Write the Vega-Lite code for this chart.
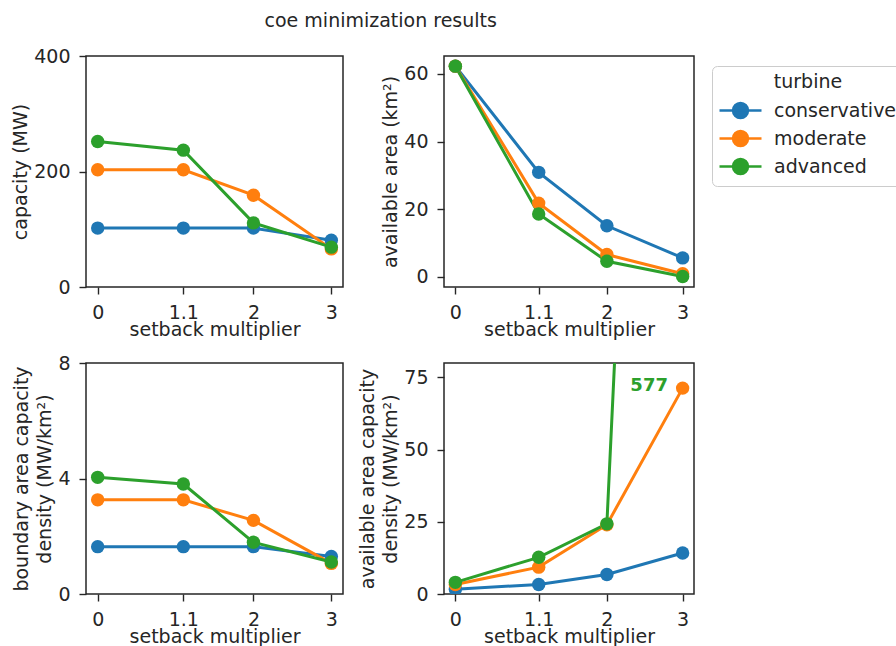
{
  "$schema": "https://vega.github.io/schema/vega-lite/v6.json",
  "autosize": {"type": "pad"},
  "padding": {"left": 10, "top": 12, "right": 0, "bottom": 0},
  "background": "white",
  "title": {"text": "coe minimization results", "fontSize": 19, "fontWeight": "normal", "font": "DejaVu Sans", "color": "#262626", "anchor": "middle", "dx": -77, "offset": 15},
  "data": {"values": [
    {"s": 0, "turbine": "conservative", "capacity": 102, "area": 62.3, "bdens": 1.64, "adens": 1.64},
    {"s": 1.1, "turbine": "conservative", "capacity": 102, "area": 30.9, "bdens": 1.64, "adens": 3.3},
    {"s": 2, "turbine": "conservative", "capacity": 102, "area": 15.1, "bdens": 1.64, "adens": 6.75},
    {"s": 3, "turbine": "conservative", "capacity": 81, "area": 5.6, "bdens": 1.3, "adens": 14.2},
    {"s": 0, "turbine": "moderate", "capacity": 203, "area": 62.3, "bdens": 3.26, "adens": 3.26},
    {"s": 1.1, "turbine": "moderate", "capacity": 203, "area": 21.8, "bdens": 3.26, "adens": 9.3},
    {"s": 2, "turbine": "moderate", "capacity": 159, "area": 6.6, "bdens": 2.55, "adens": 24.0},
    {"s": 3, "turbine": "moderate", "capacity": 66, "area": 0.93, "bdens": 1.06, "adens": 71.3},
    {"s": 0, "turbine": "advanced", "capacity": 252, "area": 62.3, "bdens": 4.04, "adens": 4.04},
    {"s": 1.1, "turbine": "advanced", "capacity": 237, "area": 18.6, "bdens": 3.81, "adens": 12.7},
    {"s": 2, "turbine": "advanced", "capacity": 111, "area": 4.6, "bdens": 1.79, "adens": 24.3},
    {"s": 3, "turbine": "advanced", "capacity": 69, "area": 0.118, "bdens": 1.11, "adens": 577}
  ]},
  "bounds": "flush",
  "columns": 2,
  "spacing": {"row": 76, "column": 101},
  "concat": [
    {
      "width": 257, "height": 231,
      "layer": [
        {"mark": {"type": "line", "strokeWidth": 3, "clip": true},
         "encoding": {
           "x": {"field": "s", "type": "quantitative", "scale": {"domain": [-0.15, 3.15], "nice": false, "zero": false}, "axis": {"values": [0, 1.1, 2, 3], "format": "~g", "title": "setback multiplier"}},
           "y": {"field": "capacity", "type": "quantitative", "scale": {"domain": [0, 400], "nice": false}, "axis": {"values": [0, 200, 400], "title": "capacity (MW)"}},
           "color": {"field": "turbine", "type": "nominal", "scale": {"domain": ["conservative", "moderate", "advanced"], "range": ["#1f77b4", "#ff7f0e", "#2ca02c"]},
             "legend": {"title": "turbine", "orient": "none", "legendX": 626, "legendY": 10,
               "symbolType": "M-2.8,0H2.8M-1,0A1,1 0 1,1 1,0A1,1 0 1,1 -1,0Z",
               "symbolSize": 225, "symbolStrokeWidth": 2.5, "symbolOffset": 12, "labelOffset": 24, "rowPadding": 3, "padding": 7,
               "strokeColor": "#cccccc", "fillColor": "white", "cornerRadius": 5, "titleAnchor": "middle",
               "encode": {"symbols": {"update": {"fill": {"scale": "color", "field": "value"}, "stroke": {"scale": "color", "field": "value"}, "opacity": {"value": 1}, "strokeWidth": {"value": 2.5}}}}}}
         }},
        {"mark": {"type": "point", "filled": true, "size": 180, "opacity": 1, "clip": true},
         "encoding": {
           "x": {"field": "s", "type": "quantitative"},
           "y": {"field": "capacity", "type": "quantitative"},
           "color": {"field": "turbine", "type": "nominal"}
         }}
      ]
    },
    {
      "width": 250, "height": 231,
      "layer": [
        {"mark": {"type": "line", "strokeWidth": 3, "clip": true},
         "encoding": {
           "x": {"field": "s", "type": "quantitative", "scale": {"domain": [-0.15, 3.15], "nice": false, "zero": false}, "axis": {"values": [0, 1.1, 2, 3], "format": "~g", "title": "setback multiplier"}},
           "y": {"field": "area", "type": "quantitative", "scale": {"domain": [-3.0, 65.3], "nice": false, "zero": false}, "axis": {"values": [0, 20, 40, 60], "title": "available area (km²)"}},
           "color": {"field": "turbine", "type": "nominal"}
         }},
        {"mark": {"type": "point", "filled": true, "size": 180, "opacity": 1, "clip": true},
         "encoding": {
           "x": {"field": "s", "type": "quantitative"},
           "y": {"field": "area", "type": "quantitative"},
           "color": {"field": "turbine", "type": "nominal"}
         }}
      ]
    },
    {
      "width": 257, "height": 231,
      "layer": [
        {"mark": {"type": "line", "strokeWidth": 3, "clip": true},
         "encoding": {
           "x": {"field": "s", "type": "quantitative", "scale": {"domain": [-0.15, 3.15], "nice": false, "zero": false}, "axis": {"values": [0, 1.1, 2, 3], "format": "~g", "title": "setback multiplier"}},
           "y": {"field": "bdens", "type": "quantitative", "scale": {"domain": [0, 8], "nice": false}, "axis": {"values": [0, 4, 8], "title": ["boundary area capacity", "density (MW/km²)"]}},
           "color": {"field": "turbine", "type": "nominal"}
         }},
        {"mark": {"type": "point", "filled": true, "size": 180, "opacity": 1, "clip": true},
         "encoding": {
           "x": {"field": "s", "type": "quantitative"},
           "y": {"field": "bdens", "type": "quantitative"},
           "color": {"field": "turbine", "type": "nominal"}
         }}
      ]
    },
    {
      "width": 250, "height": 231,
      "layer": [
        {"mark": {"type": "line", "strokeWidth": 3, "clip": true},
         "encoding": {
           "x": {"field": "s", "type": "quantitative", "scale": {"domain": [-0.15, 3.15], "nice": false, "zero": false}, "axis": {"values": [0, 1.1, 2, 3], "format": "~g", "title": "setback multiplier"}},
           "y": {"field": "adens", "type": "quantitative", "scale": {"domain": [0, 80], "nice": false}, "axis": {"values": [0, 25, 50, 75], "title": ["available area capacity", "density (MW/km²)"]}},
           "color": {"field": "turbine", "type": "nominal"}
         }},
        {"mark": {"type": "point", "filled": true, "size": 180, "opacity": 1, "clip": true},
         "encoding": {
           "x": {"field": "s", "type": "quantitative"},
           "y": {"field": "adens", "type": "quantitative"},
           "color": {"field": "turbine", "type": "nominal"}
         }},
        {"data": {"values": [{"s": 2.31, "adens": 72, "label": "577"}]},
         "mark": {"type": "text", "align": "left", "baseline": "middle", "fontSize": 18, "fontWeight": "bold", "font": "DejaVu Sans", "color": "#2ca02c"},
         "encoding": {
           "x": {"field": "s", "type": "quantitative"},
           "y": {"field": "adens", "type": "quantitative"},
           "text": {"field": "label", "type": "nominal"}
         }}
      ]
    }
  ],
  "config": {
    "font": "DejaVu Sans",
    "view": {"stroke": "#262626", "strokeWidth": 1.5},
    "axis": {
      "grid": false, "domain": false,
      "tickColor": "#262626", "tickSize": 7, "tickWidth": 1.4,
      "labelFont": "DejaVu Sans", "labelFontSize": 19, "labelColor": "#262626", "labelPadding": 9,
      "titleFont": "DejaVu Sans", "titleFontSize": 19, "titleFontWeight": "normal", "titleColor": "#262626",
      "titleLineHeight": 23
    },
    "axisX": {"titlePadding": -2, "labelFlush": false},
    "axisY": {"titlePadding": 3},
    "legend": {
      "labelFont": "DejaVu Sans", "labelFontSize": 19, "labelColor": "#262626",
      "titleFont": "DejaVu Sans", "titleFontSize": 19, "titleFontWeight": "normal", "titleColor": "#262626",
      "titlePadding": 9
    }
  }
}
